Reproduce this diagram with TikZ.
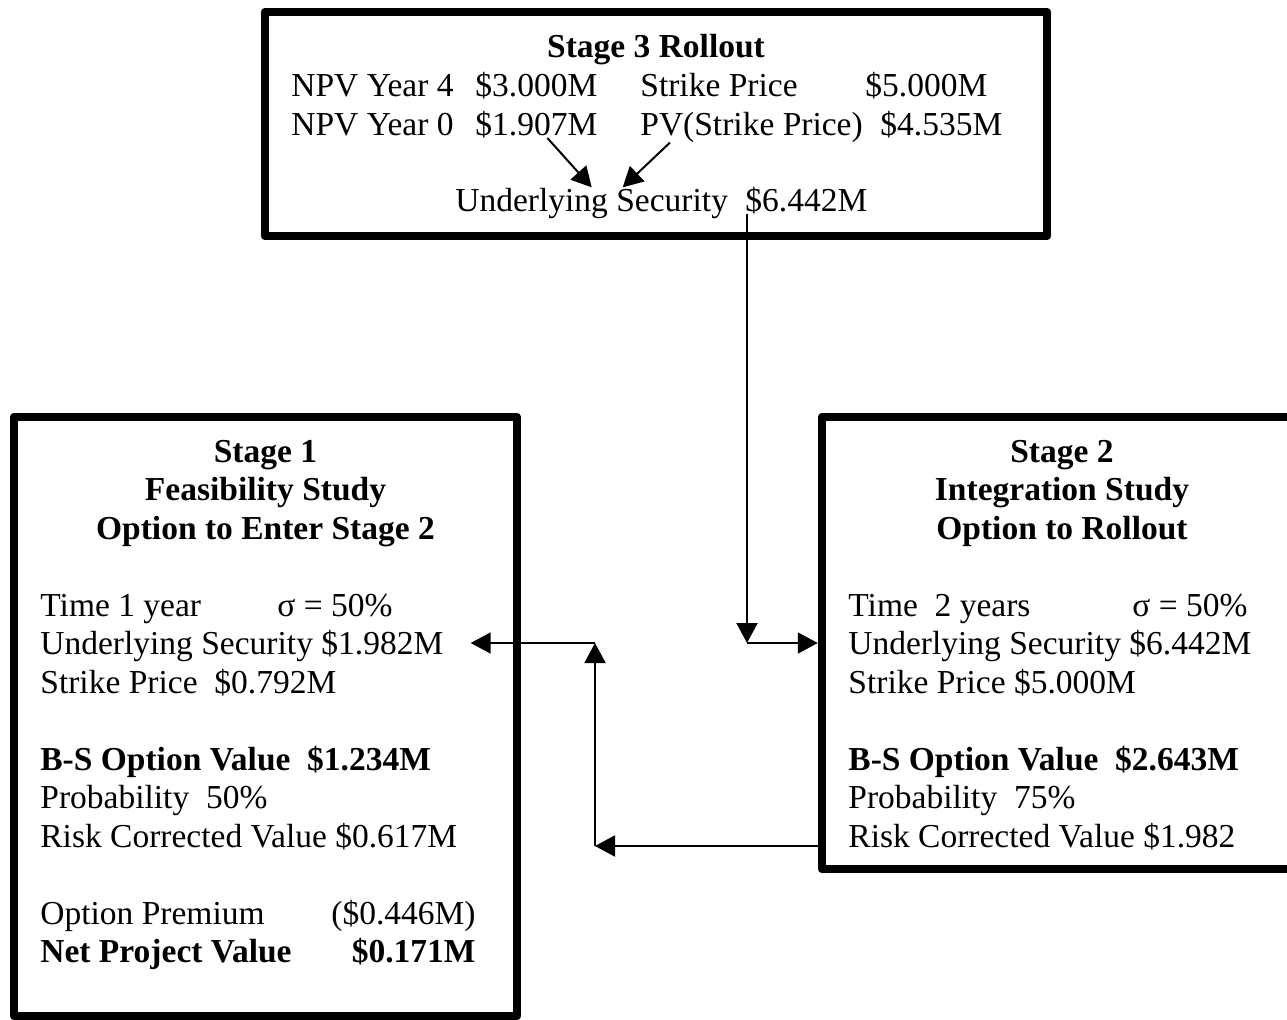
\documentclass[tikz,border=0pt]{standalone}
\usepackage{fontspec}
\setmainfont{Liberation Serif}
\usetikzlibrary{positioning, arrows.meta, calc}

\newcommand{\stagefont}{\fontsize{16.75}{19.25}\selectfont}

\begin{document}
\begin{tikzpicture}[
    x=0.5pt, y=-0.5pt,
    arrow/.style={-{Triangle[length=10pt, width=10.5pt]}, line width=1pt},
    stagebox/.style={draw, line width=4.25pt, line join=round, inner sep=0pt},
    txt/.style={anchor=base west, inner sep=0pt, font=\stagefont},
    num/.style={anchor=base east, inner sep=0pt, font=\stagefont},
    ttl/.style={anchor=base, inner sep=0pt, font=\stagefont\bfseries},
    bold/.style={font=\stagefont\bfseries}
]

    \clip (0, 0) rectangle (1287, 1019);

    % === Stage 3 Rollout ===
    \node[stagebox, minimum width=391pt, minimum height=112pt] (s3) at (656, 124) {};
    \node[ttl] (s3title) at (656, 57) {Stage 3 Rollout};

    \node[txt] (s3npv4)    at (291, 96) {NPV Year 4};
    \node[txt] (s3npv4v)   at (475, 96) {\$3.000M};
    \node[txt] (s3strike)  at (640, 96) {Strike Price};
    \node[txt] (s3strikev) at (865, 96) {\$5.000M};

    \node[txt] (s3npv0)    at (291, 135) {NPV Year 0};
    \node[txt] (s3npv0v)   at (475, 135) {\$1.907M};
    \node[txt] (s3pvk)     at (640, 135) {PV(Strike Price)};
    \node[txt] (s3pvkv)    at (880, 135) {\$4.535M};

    \node[txt] (s3usec)    at (455, 211) {Underlying Security};
    \node[txt] (s3usecv)   at (745, 211) {\$6.442M};

    \draw[arrow] ($(s3npv0v.south)+(11, 0)$) -- (s3usec.north);
    \draw[arrow] ($(s3pvk.south west)+(30, 0)$) -- ($(s3usec.north)+(31, 0)$);

    % === Stage 1 Feasibility Study ===
    \node[stagebox, minimum width=251.5pt, minimum height=299.5pt] (s1) at (265.5, 716.5) {};
    \node[ttl] (s1title1) at (265.5, 462)   {Stage 1};
    \node[ttl] (s1title2) at (265.5, 500.5) {Feasibility Study};
    \node[ttl] (s1title3) at (265.5, 539)   {Option to Enter Stage 2};

    \node[txt] (s1time)  at (40, 616)   {Time 1 year};
    \node[txt] (s1sigma) at (277, 616)  {σ = 50\%};
    \node[txt] (s1usec)  at (40, 654.5) {Underlying Security \$1.982M};
    \node[txt] (s1k)     at (40, 693)   {Strike Price~~\$0.792M};

    \node[txt, bold] (s1bs)   at (40, 770)   {B-S Option Value~~\$1.234M};
    \node[txt] (s1prob)       at (40, 808.5) {Probability~~50\%};
    \node[txt] (s1risk)       at (40, 847)   {Risk Corrected Value \$0.617M};

    \node[txt] (s1prem)        at (40, 924)    {Option Premium};
    \node[num] (s1premv)       at (476, 924)   {(\$0.446M)};
    \node[txt, bold] (s1net)   at (40, 962.5)  {Net Project Value};
    \node[num, bold] (s1netv)  at (476, 962.5) {\$0.171M};

    % === Stage 2 Integration Study ===
    \node[stagebox, minimum width=240pt, minimum height=226pt] (s2) at (1062, 643) {};
    \node[ttl] (s2title1) at (1062, 462)   {Stage 2};
    \node[ttl] (s2title2) at (1062, 500.5) {Integration Study};
    \node[ttl] (s2title3) at (1062, 539)   {Option to Rollout};

    \node[txt] (s2time)  at (848, 616)   {Time~~2 years};
    \node[txt] (s2sigma) at (1132, 616)  {σ = 50\%};
    \node[txt] (s2usec)  at (848, 654.5) {Underlying Security \$6.442M};
    \node[txt] (s2k)     at (848, 693)   {Strike Price \$5.000M};

    \node[txt, bold] (s2bs) at (848, 770)   {B-S Option Value~~\$2.643M};
    \node[txt] (s2prob)     at (848, 808.5) {Probability~~75\%};
    \node[txt] (s2risk)     at (848, 847)   {Risk Corrected Value \$1.982};

    % === Connectors ===
    \coordinate (drop) at (747, 643);
    \coordinate (turnA) at (595, 846);
    \coordinate (turnB) at (595, 643);

    \draw[arrow] ([xshift=1pt]s3usecv.south west) -- (drop);
    \draw[arrow] (drop) -- (drop -| s2.west);

    \draw[arrow] (turnA -| s2.west) -- (turnA);
    \draw[arrow] (turnA) -- (turnB);
    \draw[arrow] (turnB) -- ($(turnB -| s1usec.east)+(27, 0)$);

\end{tikzpicture}
\end{document}
